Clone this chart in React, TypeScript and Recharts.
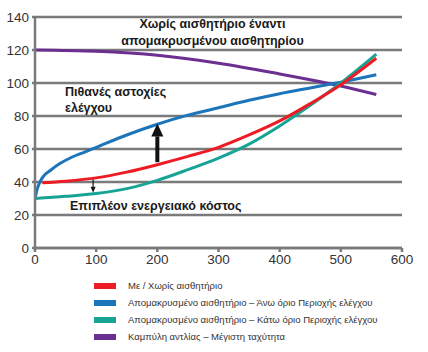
import React from "react";
import { LineChart, Line, XAxis, YAxis, CartesianGrid, ReferenceLine } from "recharts";

const xTicks = [0, 100, 200, 300, 400, 500, 600];
const yTicks = [0, 20, 40, 60, 80, 100, 120, 140];

const redX = [12, 50, 100, 150, 200, 250, 300, 350, 400, 450, 500, 558];
const redY = [39.5, 40.5, 42.5, 46, 50.5, 55.5, 61, 68.5, 77, 87.5, 99, 115];

const blueX = [0, 3, 8, 15, 25, 40, 60, 80, 100, 150, 200, 250, 300, 350, 400, 450, 500, 558];
const blueY = [30, 35, 40, 44, 47, 51, 55, 58, 61, 68.5, 75, 80.5, 85, 89.5, 93.5, 97, 100.5, 105];

const tealX = [0, 50, 100, 150, 200, 250, 300, 350, 400, 450, 500, 558];
const tealY = [30, 31.3, 33, 36, 41, 47.5, 54.5, 63, 74, 86.5, 100, 117.5];

const purpleX = [0, 100, 200, 300, 400, 450, 500, 558];
const purpleY = [120, 119.2, 116.8, 112, 105.5, 102, 98.2, 93];

const legendLabels = [
  "Με / Χωρίς αισθητήριο",
  "Απομακρυσμένο αισθητήριο – Άνω όριο Περιοχής ελέγχου",
  "Απομακρυσμένο αισθητήριο – Κάτω όριο Περιοχής ελέγχου",
  "Καμπύλη αντλίας – Μέγιστη ταχύτητα",
];
const colors = ["#ED1C24", "#1B75BB", "#17A495", "#6B2E91"];

const bigArrow = [{ x: 200, y: 52 }, { x: 200, y: 75.5 }];
const smallArrow = [{ x: 95, y: 41.5 }, { x: 95, y: 33.5 }];

const zip = (xs: number[], ys: number[]) => xs.map((x, i) => ({ x, y: ys[i] }));

const redData = zip(redX, redY);
const blueData = zip(blueX, blueY);
const tealData = zip(tealX, tealY);
const purpleData = zip(purpleX, purpleY);

const BigArrowShape = (p: any) => {
  const { x1, y1, x2, y2 } = p;
  const headH = 13;
  const headW = 6;
  const dir = y2 < y1 ? 1 : -1;
  return (
    <g>
      <line x1={x1} y1={y1} x2={x2} y2={y2 + dir * headH} stroke="#111" strokeWidth={4} />
      <polygon points={`${x2},${y2} ${x2 - headW},${y2 + dir * headH} ${x2 + headW},${y2 + dir * headH}`} fill="#111" />
    </g>
  );
};

const SmallArrowShape = (p: any) => {
  const { x1, y1, x2, y2 } = p;
  const headH = 6;
  const headW = 2.5;
  const dir = y2 < y1 ? 1 : -1;
  return (
    <g>
      <line x1={x1} y1={y1} x2={x2} y2={y2 + dir * headH} stroke="#111" strokeWidth={1.2} />
      <polygon points={`${x2},${y2} ${x2 - headW},${y2 + dir * headH} ${x2 + headW},${y2 + dir * headH}`} fill="#111" />
    </g>
  );
};

const annoStyle: React.CSSProperties = {
  position: "absolute",
  fontFamily: "'Liberation Sans', Arial, sans-serif",
  fontWeight: "bold",
  fontSize: 12.5,
  color: "#1a1a1a",
  lineHeight: "16px",
  whiteSpace: "nowrap",
};

const tickStyle = { fill: "#333", fontSize: 13.5, fontFamily: "'Liberation Sans', Arial, sans-serif" };

export default function App() {
  const gray = "#7a7a7a";
  return (
    <div style={{ position: "absolute", left: 0, top: 0, width: 428, height: 352, background: "#fff", overflow: "hidden" }}>
      <LineChart width={428} height={275} margin={{ top: 17, right: 26, left: 0, bottom: 0 }}>
        <CartesianGrid horizontal vertical={false} stroke={gray} strokeWidth={2.5} />
        <XAxis
          type="number"
          dataKey="x"
          domain={[0, 600]}
          ticks={xTicks}
          allowDataOverflow
          stroke={gray}
          strokeWidth={2.5}
          tickSize={4}
          tickMargin={2}
          height={27}
          tick={tickStyle}
        />
        <YAxis
          type="number"
          domain={[0, 140]}
          ticks={yTicks}
          width={35}
          stroke={gray}
          strokeWidth={2.5}
          tickSize={3}
          tickMargin={3}
          tick={tickStyle}
        />
        <Line data={purpleData} dataKey="y" type="monotone" stroke={colors[3]} strokeWidth={3} dot={false} isAnimationActive={false} />
        <Line data={blueData} dataKey="y" type="monotone" stroke={colors[1]} strokeWidth={3} dot={false} isAnimationActive={false} />
        <Line data={tealData} dataKey="y" type="monotone" stroke={colors[2]} strokeWidth={3} dot={false} isAnimationActive={false} />
        <Line data={redData} dataKey="y" type="monotone" stroke={colors[0]} strokeWidth={3} dot={false} isAnimationActive={false} />
        <ReferenceLine segment={bigArrow} shape={BigArrowShape} />
        <ReferenceLine segment={smallArrow} shape={SmallArrowShape} />
      </LineChart>
      <div style={{ ...annoStyle, left: 95, top: 16, width: 235, textAlign: "center", lineHeight: "17px" }}>
        Χωρίς αισθητήριο έναντι
        <br />
        απομακρυσμένου αισθητηρίου
      </div>
      <div style={{ ...annoStyle, left: 65, top: 84 }}>
        Πιθανές αστοχίες
        <br />
        ελέγχου
      </div>
      <div style={{ ...annoStyle, left: 70, top: 198 }}>Επιπλέον ενεργειακό κόστος</div>
      {legendLabels.map((lab, i) => (
        <div key={lab} style={{ position: "absolute", left: 94, top: 277 + i * 17, height: 17, display: "flex", alignItems: "center" }}>
          <div style={{ width: 22, height: 6, background: colors[i] }} />
          <div
            style={{
              marginLeft: 12,
              fontFamily: "'Liberation Sans', Arial, sans-serif",
              fontSize: 9.5,
              color: "#333",
              whiteSpace: "nowrap",
            }}
          >
            {lab}
          </div>
        </div>
      ))}
    </div>
  );
}
